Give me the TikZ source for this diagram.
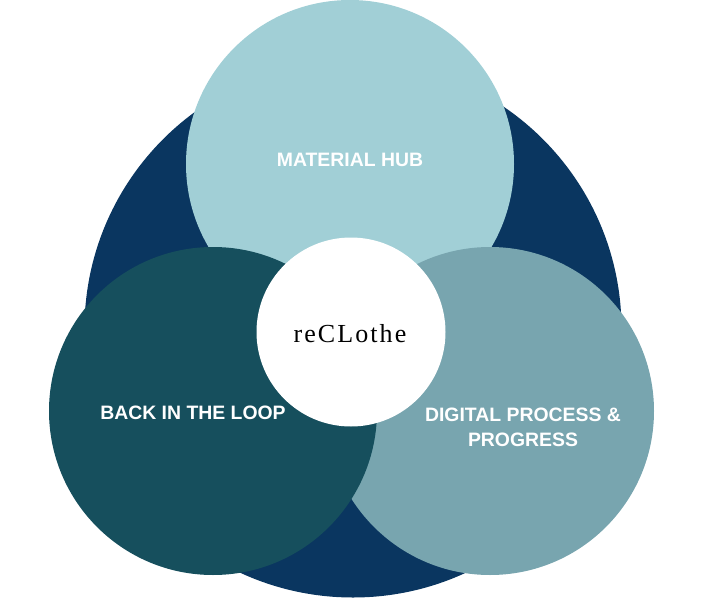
\documentclass[tikz,border=0pt]{standalone}
\usepackage{fontspec}
\newfontfamily\labfont{Liberation Sans}
\newfontfamily\logofont[LetterSpace=8]{Liberation Serif}
\definecolor{navy}{HTML}{0A3660}
\definecolor{hub}{HTML}{A1CFD6}
\definecolor{loopc}{HTML}{164F5D}
\definecolor{digi}{HTML}{78A5AF}
\begin{document}
\begin{tikzpicture}[x=1pt,y=-1pt,
  disc/.style={circle,inner sep=0pt,minimum size=#1},
  lab/.style={text=white,font=\labfont\bfseries\fontsize{19.4}{25}\selectfont,align=center,inner sep=0pt}]
\useasboundingbox (0,0) rectangle (705,600);
\node[disc=537pt,fill=navy] (big) at (353,329) {};
\node[disc=328pt,fill=hub] (hub) at (350,164) {};
\node[disc=328pt,fill=digi] (digi) at (490,411) {};
\node[disc=328pt,fill=loopc] (loop) at (213,411) {};
\node[disc=189pt,fill=white] (core) at (351,332) {};
\node[font=\logofont\fontsize{26}{28}\selectfont,inner sep=0pt] (logo) at (350,334) {reCLothe};
\node[lab] (hubl) at (350,160) {MATERIAL HUB};
\node[lab] (loopl) at (193,413) {BACK IN THE LOOP};
\node[lab] (digil) at (523,427) {DIGITAL PROCESS \&\\PROGRESS};
\end{tikzpicture}
\end{document}
